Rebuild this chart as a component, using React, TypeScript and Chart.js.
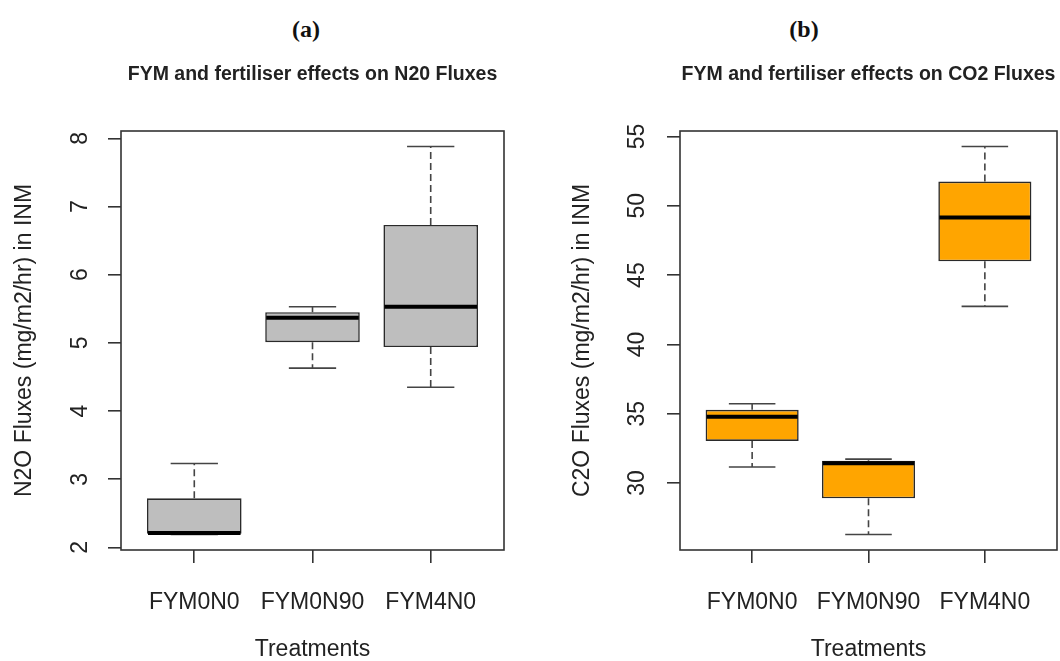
import React, { useEffect, useRef } from 'react';
import { Chart, registerables } from 'chart.js';

Chart.register(...registerables);

// ---------- data ----------
const categories = ['FYM0N0', 'FYM0N90', 'FYM4N0'];
const categoryPositions = [1, 2, 3];

// Panel (a): N2O fluxes (mg/m2/hr)
const n2oMin = [2.19, 4.63, 4.35];
const n2oQ1 = [2.2, 5.01, 4.94];
const n2oMedian = [2.21, 5.37, 5.53];
const n2oQ3 = [2.72, 5.45, 6.73];
const n2oMax = [3.23, 5.53, 7.88];

// Panel (b): CO2 fluxes (mg/m2/hr)
const co2Min = [31.15, 26.28, 42.74];
const co2Q1 = [33.03, 28.89, 46.0];
const co2Median = [34.77, 31.42, 49.15];
const co2Q3 = [35.28, 31.6, 51.75];
const co2Max = [35.72, 31.72, 54.28];

const titleA = 'FYM and fertiliser effects on N20 Fluxes';
const titleB = 'FYM and fertiliser effects on CO2 Fluxes';
const yTitleA = 'N2O Fluxes (mg/m2/hr) in INM';
const yTitleB = 'C2O Fluxes (mg/m2/hr) in INM';
const xTitle = 'Treatments';
const captionA = '(a)';
const captionB = '(b)';

const SANS = "'Liberation Sans', Arial, sans-serif";
const SERIF = "'Liberation Serif', 'Times New Roman', serif";

// R-style 4% range extension
function rRange(lo: number, hi: number) {
  const r = hi - lo;
  return [lo - 0.04 * r, hi + 0.04 * r];
}

type PanelSpec = {
  title: string;
  yTitle: string;
  min: number[];
  q1: number[];
  median: number[];
  q3: number[];
  max: number[];
  fill: string;
  step: number;
  canvasLeft: number;
  canvasWidth: number;
  yAxisWidth: number;
  padRight: number;
  yTickPadding: number;
  yTitlePad: number;
};

function boxPlugin(spec: PanelSpec) {
  return {
    id: 'boxWhiskers',
    afterDatasetsDraw(chart: any) {
      const meta = chart.getDatasetMeta(0);
      const ys = chart.scales.y;
      const ctx = chart.ctx;
      ctx.save();
      meta.data.forEach((bar: any, i: number) => {
        const x = bar.x;
        const w = bar.width;
        const pMin = ys.getPixelForValue(spec.min[i]);
        const pQ1 = ys.getPixelForValue(spec.q1[i]);
        const pMed = ys.getPixelForValue(spec.median[i]);
        const pQ3 = ys.getPixelForValue(spec.q3[i]);
        const pMax = ys.getPixelForValue(spec.max[i]);
        // dashed whiskers
        ctx.strokeStyle = '#444';
        ctx.lineWidth = 1.6;
        ctx.setLineDash([7, 4]);
        ctx.beginPath();
        ctx.moveTo(x, pQ3);
        ctx.lineTo(x, pMax);
        ctx.moveTo(x, pQ1);
        ctx.lineTo(x, pMin);
        ctx.stroke();
        ctx.setLineDash([]);
        // staples
        ctx.beginPath();
        ctx.moveTo(x - w / 4, pMax);
        ctx.lineTo(x + w / 4, pMax);
        ctx.moveTo(x - w / 4, pMin);
        ctx.lineTo(x + w / 4, pMin);
        ctx.stroke();
        // median
        ctx.strokeStyle = '#000';
        ctx.lineWidth = 4;
        ctx.beginPath();
        ctx.moveTo(x - w / 2 + 1, pMed);
        ctx.lineTo(x + w / 2 - 1, pMed);
        ctx.stroke();
      });
      // plot frame
      const a = chart.chartArea;
      ctx.strokeStyle = '#333';
      ctx.lineWidth = 1.6;
      ctx.strokeRect(a.left, a.top, a.right - a.left, a.bottom - a.top);
      ctx.restore();
    },
  };
}

function BoxPanel({ spec }: { spec: PanelSpec }) {
  const ref = useRef<HTMLCanvasElement | null>(null);
  useEffect(() => {
    if (!ref.current) return;
    const lo = Math.min(...spec.min);
    const hi = Math.max(...spec.max);
    const [yMin, yMax] = rRange(lo, hi);
    const [xMin, xMax] = rRange(0.5, categories.length + 0.5);
    const chart = new Chart(ref.current, {
      type: 'bar',
      data: {
        datasets: [
          {
            data: categoryPositions.map((p, i) => ({ x: p, y: [spec.q1[i], spec.q3[i]] })) as any,
            backgroundColor: spec.fill,
            borderColor: '#2a2a2a',
            borderWidth: 1.6,
            borderSkipped: false,
            barPercentage: 0.8,
            categoryPercentage: 1,
          },
        ],
      },
      options: {
        responsive: false,
        animation: false,
        events: [],
        layout: { padding: { left: 0, right: spec.padRight, top: 0, bottom: 0 } },
        plugins: {
          legend: { display: false },
          tooltip: { enabled: false },
          title: {
            display: true,
            text: spec.title,
            fullSize: false,
            color: '#222',
            font: { family: SANS, size: 19.5, weight: 'bold', lineHeight: 1.2 },
            padding: { top: 63.3, bottom: 44.3 },
          },
        },
        scales: {
          x: {
            type: 'linear',
            min: xMin,
            max: xMax,
            offset: false,
            afterFit: (s: any) => {
              s.height = 111;
            },
            grid: {
              display: true,
              drawOnChartArea: false,
              drawTicks: true,
              tickLength: 13,
              color: '#333',
              lineWidth: 1.6,
              offset: false,
            },
            border: { display: false },
            ticks: {
              stepSize: 1,
              includeBounds: false,
              autoSkip: false,
              maxRotation: 0,
              minRotation: 0,
              padding: 26,
              color: '#222',
              font: { family: SANS, size: 23, lineHeight: 1.2 },
              callback: (v: any) => categories[Math.round(Number(v)) - 1] ?? '',
            },
            title: {
              display: true,
              text: xTitle,
              color: '#222',
              font: { family: SANS, size: 23, lineHeight: 1 },
              padding: { top: 0, bottom: 0 },
            },
          },
          y: {
            type: 'linear',
            min: yMin,
            max: yMax,
            afterFit: (s: any) => {
              s.width = spec.yAxisWidth;
            },
            grid: {
              display: true,
              drawOnChartArea: false,
              drawTicks: true,
              tickLength: 13,
              color: '#333',
              lineWidth: 1.6,
            },
            border: { display: false },
            ticks: {
              stepSize: spec.step,
              includeBounds: false,
              minRotation: 90,
              maxRotation: 90,
              crossAlign: 'center',
              padding: spec.yTickPadding,
              color: '#222',
              font: { family: SANS, size: 23, lineHeight: 1.2 },
            },
            title: {
              display: true,
              text: spec.yTitle,
              color: '#222',
              font: { family: SANS, size: 23, lineHeight: 1 },
              padding: { top: spec.yTitlePad, bottom: 0 },
            },
          },
        },
      } as any,
      plugins: [boxPlugin(spec)],
    });
    return () => chart.destroy();
  }, [spec]);
  return (
    <canvas
      ref={ref}
      width={spec.canvasWidth}
      height={661}
      style={{ position: 'absolute', left: spec.canvasLeft, top: 0, width: spec.canvasWidth, height: 661 }}
    />
  );
}

const specA: PanelSpec = {
  title: titleA,
  yTitle: yTitleA,
  min: n2oMin,
  q1: n2oQ1,
  median: n2oMedian,
  q3: n2oQ3,
  max: n2oMax,
  fill: '#BEBEBE',
  step: 1,
  canvasLeft: 0,
  canvasWidth: 530,
  yAxisWidth: 121,
  padRight: 26,
  yTickPadding: 20.6,
  yTitlePad: 13.5,
};

const specB: PanelSpec = {
  title: titleB,
  yTitle: yTitleB,
  min: co2Min,
  q1: co2Q1,
  median: co2Median,
  q3: co2Q3,
  max: co2Max,
  fill: '#FFA500',
  step: 5,
  canvasLeft: 530,
  canvasWidth: 530,
  yAxisWidth: 150,
  padRight: 3,
  yTickPadding: 16.2,
  yTitlePad: 41.5,
};

const captionStyle: React.CSSProperties = {
  position: 'absolute',
  top: 16,
  width: 100,
  textAlign: 'center',
  fontFamily: SERIF,
  fontWeight: 'bold',
  fontSize: 24,
  lineHeight: '26px',
  color: '#111',
};

export default function App() {
  return (
    <div
      style={{
        position: 'fixed',
        left: 0,
        top: 0,
        width: 1060,
        height: 661,
        background: '#fff',
        overflow: 'hidden',
      }}
    >
      <div style={{ ...captionStyle, left: 256 }}>{captionA}</div>
      <div style={{ ...captionStyle, left: 754 }}>{captionB}</div>
      <BoxPanel spec={specA} />
      <BoxPanel spec={specB} />
    </div>
  );
}
